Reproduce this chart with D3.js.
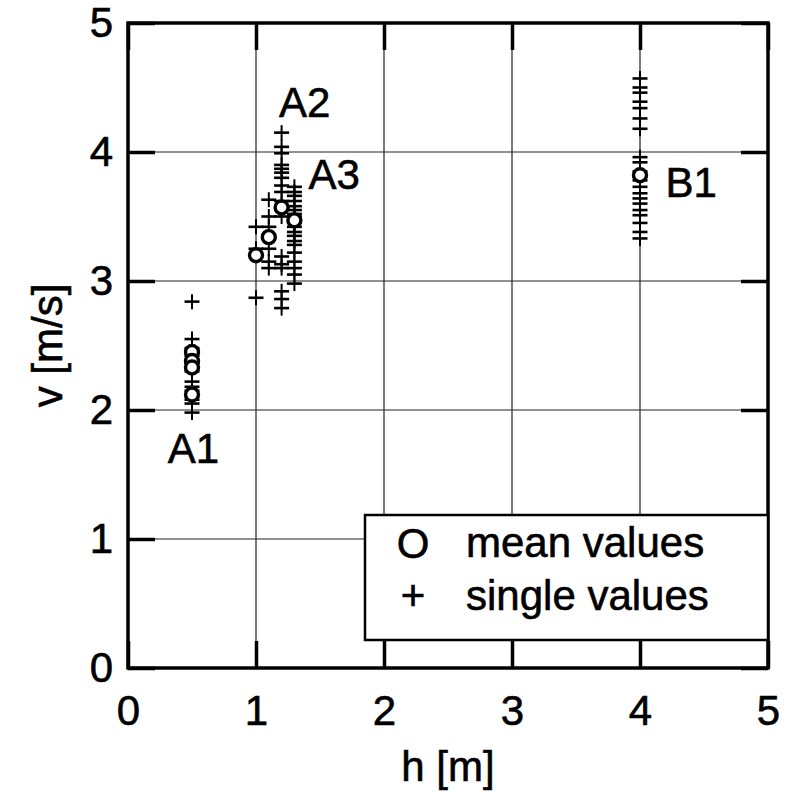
<!DOCTYPE html>
<html><head><meta charset="utf-8">
<script src="https://cdn.jsdelivr.net/npm/d3@7"></script>
<style>
body{margin:0;background:#fff;}
text{font-family:"Liberation Sans",Arial,sans-serif;fill:#000;stroke:#000;stroke-width:0.6px;}
</style></head>
<body><svg id="c" width="794" height="792"></svg>
<script>
const xTicks = [0,1,2,3,4,5];
const yTicks = [0,1,2,3,4,5];
// mean values (h, v)
const meanH = [0.5,0.5,0.5,0.5,1.0,1.1,1.2,1.3,4.0];
const meanV = [2.45,2.38,2.33,2.12,3.20,3.34,3.57,3.47,3.82];
// single values per group
const singleA1h = 0.5;
const singleA1v = [2.84,2.55,2.48,2.42,2.36,2.30,2.22,2.18,2.15,2.08,2.05,1.98];
const singleA10h = 1.0;
const singleA10v = [3.42,3.25,3.20,2.87];
const singleA11h = 1.1;
const singleA11v = [3.63,3.50,3.42,3.25,3.15,3.10];
const singleA2h = 1.2;
const singleA2v = [4.15,4.04,3.99,3.90,3.87,3.84,3.80,3.74,3.69,3.62,3.50,3.19,3.13,3.10,2.92,2.86,2.79];
const singleA3h = 1.3;
const singleA3v = [3.73,3.69,3.66,3.62,3.58,3.55,3.52,3.50,3.45,3.42,3.38,3.35,3.31,3.28,3.22,3.15,3.10,3.05,2.98];
const singleB1h = 4.0;
const singleB1v = [4.57,4.50,4.46,4.39,4.34,4.26,4.18,3.96,3.92,3.85,3.78,3.73,3.68,3.64,3.60,3.55,3.51,3.45,3.38,3.33];
const groupLabels = ["A1","A2","A3","B1"];
const groupLabelH = [0.31,1.18,1.41,4.2];
const groupLabelV = [1.59,4.27,3.71,3.65];
const legendLabels = ["mean values","single values"];
const xLabel = "h [m]";
const yLabel = "v [m/s]";

const svg = d3.select("#c");
const x = d3.scaleLinear().domain([0,5]).range([128,768]);
const y = d3.scaleLinear().domain([0,5]).range([668,23]);
const FS = 42;

// grid
svg.append("g").selectAll("line").data(xTicks.slice(1,-1)).join("line")
  .attr("x1",d=>x(d)).attr("x2",d=>x(d)).attr("y1",y(0)).attr("y2",y(5))
  .attr("stroke","#222").attr("stroke-width",1.2);
svg.append("g").selectAll("line").data(yTicks.slice(1,-1)).join("line")
  .attr("y1",d=>y(d)).attr("y2",d=>y(d)).attr("x1",x(0)).attr("x2",x(5))
  .attr("stroke","#222").attr("stroke-width",1.2);

function styleAxis(g){
  g.selectAll("path.domain").remove();
  g.selectAll(".tick line").attr("stroke","#000").attr("stroke-width",3.5);
  g.selectAll(".tick text").attr("font-size",FS).attr("font-family","Liberation Sans, Arial, sans-serif").attr("fill","#000");
}
svg.append("g").attr("transform",`translate(0,${y(0)})`)
  .call(d3.axisBottom(x).tickValues(xTicks).tickSize(-27).tickPadding(27).tickFormat(d3.format("d")))
  .call(styleAxis);
svg.append("g").attr("transform",`translate(${x(0)},0)`)
  .call(d3.axisLeft(y).tickValues(yTicks).tickSize(-27).tickPadding(15).tickFormat(d3.format("d")))
  .call(styleAxis);
svg.append("g").attr("transform",`translate(0,${y(5)})`)
  .call(d3.axisTop(x).tickValues(xTicks).tickSize(-27).tickFormat(""))
  .call(styleAxis);
svg.append("g").attr("transform",`translate(${x(5)},0)`)
  .call(d3.axisRight(y).tickValues(yTicks).tickSize(-27).tickFormat(""))
  .call(styleAxis);

// frame
svg.append("rect").attr("x",x(0)).attr("y",y(5)).attr("width",x(5)-x(0)).attr("height",y(0)-y(5))
  .attr("fill","none").attr("stroke","#000").attr("stroke-width",3.5);

// single values
const singles = [];
[[singleA1h,singleA1v],[singleA10h,singleA10v],[singleA11h,singleA11v],[singleA2h,singleA2v],[singleA3h,singleA3v],[singleB1h,singleB1v]]
  .forEach(([h,vs])=>vs.forEach(v=>singles.push({h,v})));
const gs = svg.append("g");
singles.forEach(d=>{
  const cx=x(d.h), cy=y(d.v), s=7.5;
  gs.append("line").attr("x1",cx-s).attr("x2",cx+s).attr("y1",cy).attr("y2",cy).attr("stroke","#000").attr("stroke-width",2.6);
  gs.append("line").attr("x1",cx).attr("x2",cx).attr("y1",cy-s).attr("y2",cy+s).attr("stroke","#000").attr("stroke-width",2);
});
// mean values
svg.append("g").selectAll("circle").data(meanH.map((h,i)=>({h,v:meanV[i]}))).join("circle")
  .attr("cx",d=>x(d.h)).attr("cy",d=>y(d.v)).attr("r",6.5)
  .attr("fill","#fff").attr("stroke","#000").attr("stroke-width",3.4);

// group labels
svg.append("g").selectAll("text").data(groupLabels).join("text")
  .attr("x",(d,i)=>x(groupLabelH[i])).attr("y",(d,i)=>y(groupLabelV[i]))
  .attr("font-size",FS).text(d=>d);

// legend
const lg = svg.append("g");
lg.append("rect").attr("x",365).attr("y",515).attr("width",x(5)-365).attr("height",125)
  .attr("fill","#fff").attr("stroke","#000").attr("stroke-width",2.5);
lg.append("text").attr("x",413).attr("y",558).attr("text-anchor","middle").attr("font-size",FS).text("O");
lg.append("text").attr("x",413).attr("y",610).attr("text-anchor","middle").attr("font-size",FS).text("+");
lg.selectAll("text.l").data(legendLabels).join("text").attr("class","l")
  .attr("x",466).attr("y",(d,i)=>557+i*53).attr("font-size",FS).text(d=>d);

// axis labels
svg.append("text").attr("x",(x(0)+x(5))/2).attr("y",781).attr("text-anchor","middle").attr("font-size",FS).text(xLabel);
svg.append("text").attr("transform",`translate(62,${(y(0)+y(5))/2}) rotate(-90)`).attr("text-anchor","middle").attr("font-size",FS).text(yLabel);
</script></body></html>
